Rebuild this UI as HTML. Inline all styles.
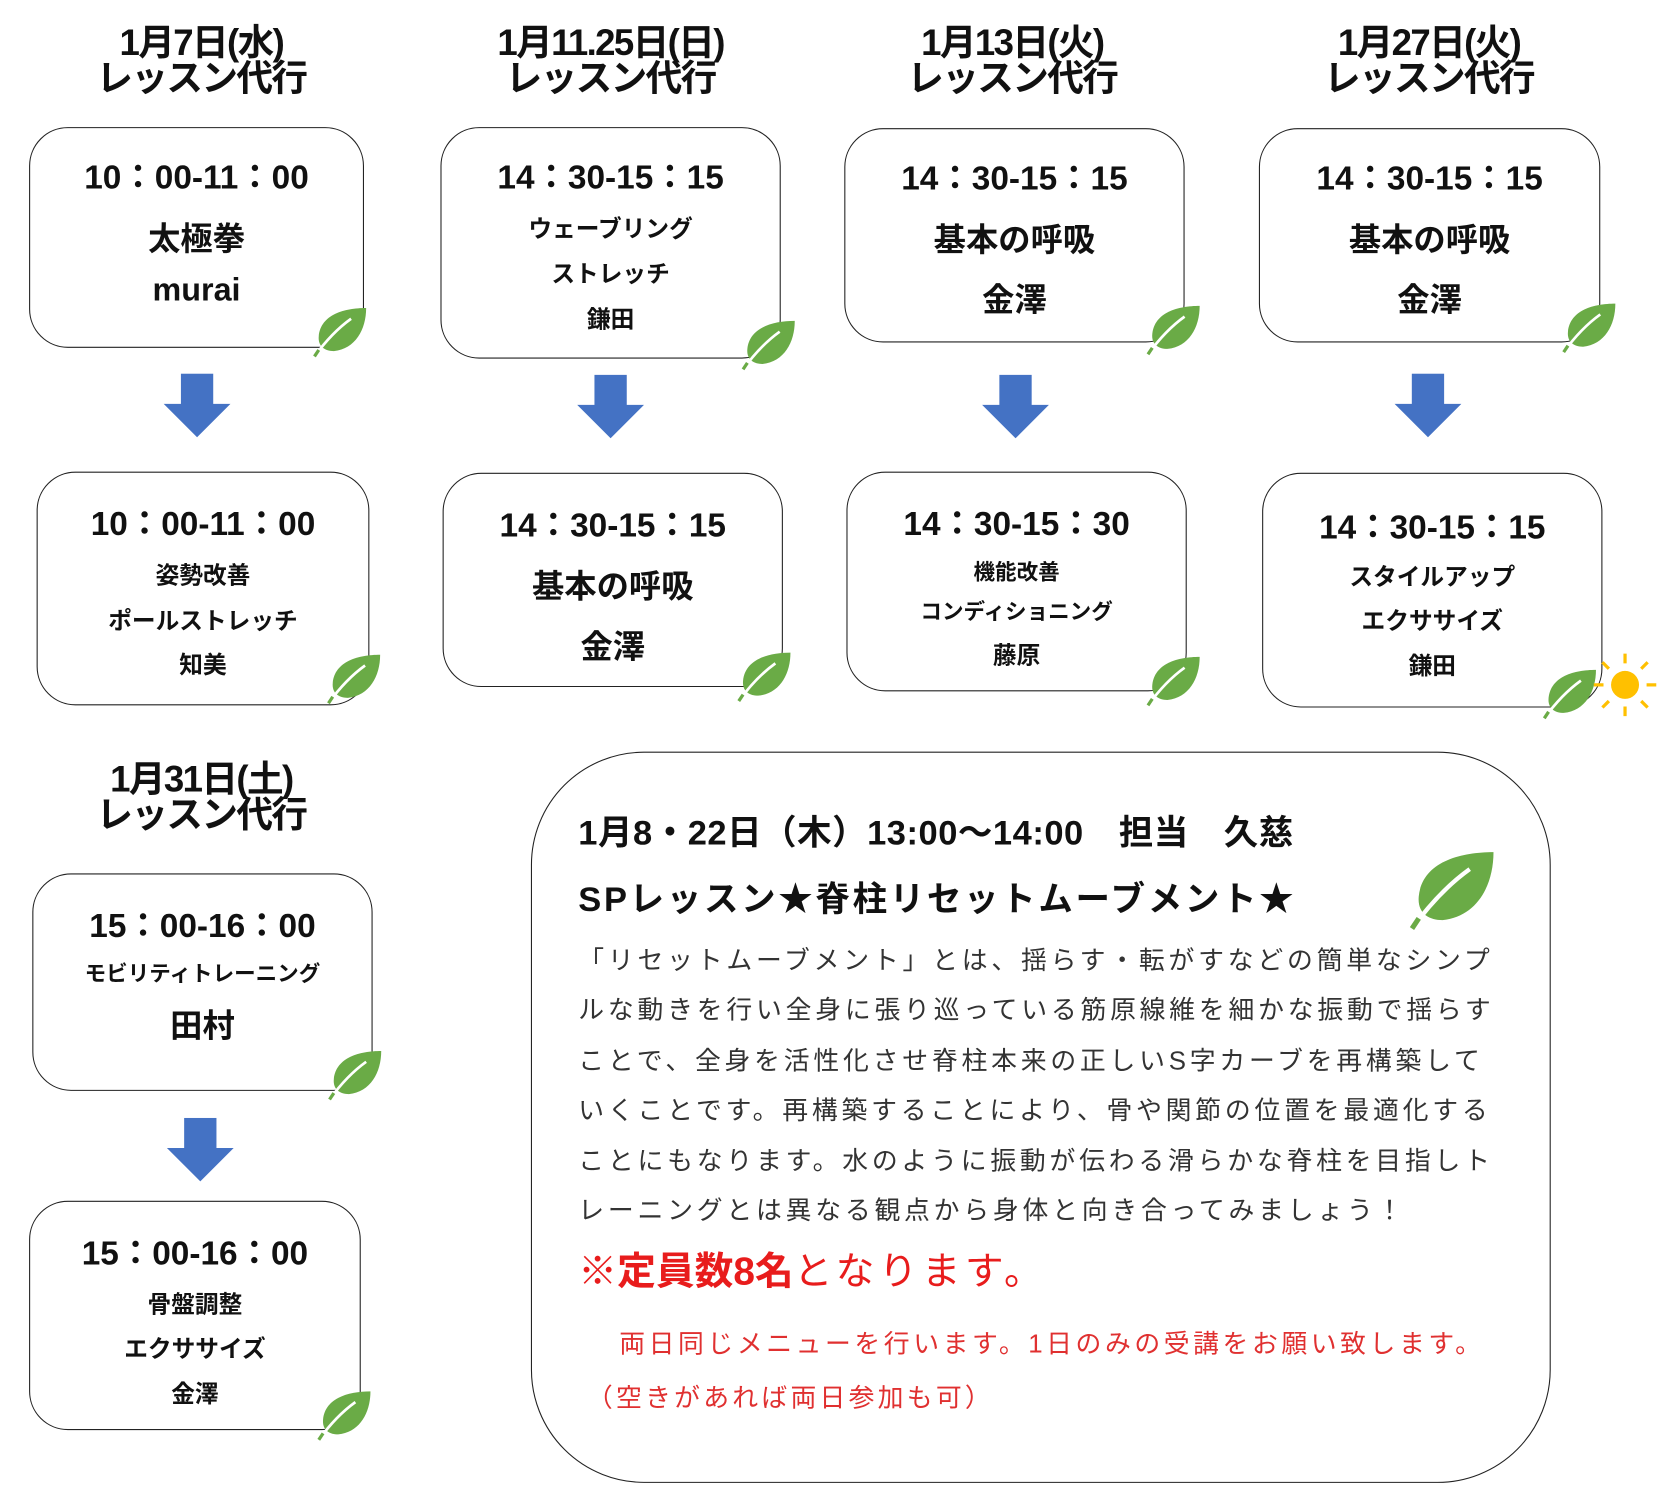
<!DOCTYPE html>
<html><head><meta charset="utf-8"><style>
html,body{margin:0;padding:0;background:#fff;}
body{width:1680px;height:1488px;overflow:hidden;position:relative;}
#w{position:absolute;left:0;top:0;width:1560px;height:1382px;transform:scale(1.0769);transform-origin:0 0;font-family:"Liberation Sans","Noto Sans CJK JP",sans-serif;color:#111;}
.h{position:absolute;text-align:center;font-size:34px;line-height:33px;width:360px;font-weight:bold;letter-spacing:-1.5px;}
.b{position:absolute;border:1.5px solid #222;border-radius:36px;box-sizing:border-box;text-align:center;font-weight:bold;}
.b div{position:absolute;left:0;right:0;text-align:center;}
.t{font-size:31px;}
.m{font-size:30px;}
.s{font-size:22px;}
.ar{position:absolute;width:64px;height:60px;}
.lf{position:absolute;width:52px;height:48px;}
.p{position:absolute;white-space:nowrap;}
</style></head><body><div id="w">
<svg width="0" height="0" style="position:absolute"><defs>
<symbol id="leaf" viewBox="0 0 52 48"><path d="M50 2 C30 2 8 8 6 28 C5 38 12 42 20 42 C40 40 50 22 50 2Z" fill="#6aab46"/><path d="M2 47 C10 36 22 22 36 12" stroke="#fff" stroke-width="2.5" fill="none"/><path d="M2 47 L6 41" stroke="#6aab46" stroke-width="3"/></symbol>
<symbol id="arr" viewBox="0 0 64 60"><path d="M17 0 H47 V28 H63 L32 59 L1 28 H17Z" fill="#4472c4"/></symbol>
</defs></svg>

<div class="h" style="left:7px;top:24px">1月7日(水)<br>レッスン代行</div>
<div class="h" style="left:387px;top:24px">1月11.25日(日)<br>レッスン代行</div>
<div class="h" style="left:760px;top:24px">1月13日(火)<br>レッスン代行</div>
<div class="h" style="left:1147px;top:24px">1月27日(火)<br>レッスン代行</div>
<div class="h" style="left:7px;top:708px">1月31日(土)<br>レッスン代行</div>

<div class="b" style="left:27px;top:118px;width:311px;height:205px"><div class="t" style="top:20px">10：00-11：00</div><div class="m" style="top:78px">太極拳</div><div class="m" style="top:134px">murai</div></div>
<div class="b" style="left:409px;top:118px;width:316px;height:215px"><div class="t" style="top:20px">14：30-15：15</div><div class="s" style="top:76px">ウェーブリング</div><div class="s" style="top:118px">ストレッチ</div><div class="s" style="top:160px">鎌田</div></div>
<div class="b" style="left:784px;top:119px;width:316px;height:199px"><div class="t" style="top:20px">14：30-15：15</div><div class="m" style="top:78px">基本の呼吸</div><div class="m" style="top:134px">金澤</div></div>
<div class="b" style="left:1169px;top:119px;width:317px;height:199px"><div class="t" style="top:20px">14：30-15：15</div><div class="m" style="top:78px">基本の呼吸</div><div class="m" style="top:134px">金澤</div></div>

<svg class="ar" style="left:151px;top:347px"><use href="#arr"/></svg>
<svg class="ar" style="left:535px;top:348px"><use href="#arr"/></svg>
<svg class="ar" style="left:911px;top:348px"><use href="#arr"/></svg>
<svg class="ar" style="left:1294px;top:347px"><use href="#arr"/></svg>
<svg class="ar" style="left:154px;top:1038px"><use href="#arr"/></svg>

<div class="b" style="left:34px;top:438px;width:309px;height:217px"><div class="t" style="top:22px">10：00-11：00</div><div class="s" style="top:78px">姿勢改善</div><div class="s" style="top:120px">ポールストレッチ</div><div class="s" style="top:161px">知美</div></div>
<div class="b" style="left:411px;top:439px;width:316px;height:199px"><div class="t" style="top:22px">14：30-15：15</div><div class="m" style="top:80px">基本の呼吸</div><div class="m" style="top:136px">金澤</div></div>
<div class="b" style="left:786px;top:438px;width:316px;height:204px"><div class="t" style="top:22px">14：30-15：30</div><div class="s" style="top:76px;font-size:20px">機能改善</div><div class="s" style="top:113px;font-size:20px">コンディショニング</div><div class="s" style="top:152px">藤原</div></div>
<div class="b" style="left:1172px;top:439px;width:316px;height:218px"><div class="t" style="top:24px">14：30-15：15</div><div class="s" style="top:78px">スタイルアップ</div><div class="s" style="top:119px">エクササイズ</div><div class="s" style="top:161px">鎌田</div></div>

<div class="b" style="left:30px;top:811px;width:316px;height:202px"><div class="t" style="top:22px">15：00-16：00</div><div class="s" style="top:76px;font-size:20px">モビリティトレーニング</div><div class="m" style="top:116px">田村</div></div>
<div class="b" style="left:27px;top:1115px;width:308px;height:213px"><div class="t" style="top:22px">15：00-16：00</div><div class="s" style="top:78px">骨盤調整</div><div class="s" style="top:119px">エクササイズ</div><div class="s" style="top:161px">金澤</div></div>

<svg class="lf" style="left:290px;top:284px"><use href="#leaf"/></svg>
<svg class="lf" style="left:688px;top:296px"><use href="#leaf"/></svg>
<svg class="lf" style="left:1064px;top:282px"><use href="#leaf"/></svg>
<svg class="lf" style="left:1450px;top:280px"><use href="#leaf"/></svg>
<svg class="lf" style="left:303px;top:606px"><use href="#leaf"/></svg>
<svg class="lf" style="left:684px;top:604px"><use href="#leaf"/></svg>
<svg class="lf" style="left:1064px;top:608px"><use href="#leaf"/></svg>
<svg class="lf" style="left:1432px;top:620px"><use href="#leaf"/></svg>
<svg class="lf" style="left:304px;top:974px"><use href="#leaf"/></svg>
<svg class="lf" style="left:294px;top:1290px"><use href="#leaf"/></svg>
<svg style="position:absolute;left:1478px;top:605px" width="62" height="62" viewBox="0 0 62 62"><circle cx="31" cy="31" r="13" fill="#ffc000"/><g stroke="#ffc000" stroke-width="3"><line x1="31" y1="2" x2="31" y2="11"/><line x1="31" y1="51" x2="31" y2="60"/><line x1="2" y1="31" x2="11" y2="31"/><line x1="51" y1="31" x2="60" y2="31"/><line x1="10" y1="10" x2="16" y2="16"/><line x1="46" y1="46" x2="52" y2="52"/><line x1="52" y1="10" x2="46" y2="16"/><line x1="10" y1="52" x2="16" y2="46"/></g></svg>

<div class="b" style="left:493px;top:698px;width:947px;height:679px;border-radius:105px"></div>
<div class="p" style="left:537px;top:748px;font-size:32px;font-weight:bold;letter-spacing:0.5px">1月8・22日（木）13:00～14:00　担当　久慈</div>
<div class="p" style="left:537px;top:810px;font-size:32px;font-weight:bold;letter-spacing:2.5px">SPレッスン★脊柱リセットムーブメント★</div>
<svg style="position:absolute;left:1308px;top:788px" width="82" height="76" viewBox="0 0 52 48"><use href="#leaf"/></svg>
<div class="p" style="left:537px;top:870px;font-size:24px;line-height:46.4px;color:#333;letter-spacing:3.5px">「リセットムーブメント」とは、揺らす・転がすなどの簡単なシンプ<br>ルな動きを行い全身に張り巡っている筋原線維を細かな振動で揺らす<br>ことで、全身を活性化させ脊柱本来の正しいS字カーブを再構築して<br>いくことです。再構築することにより、骨や関節の位置を最適化する<br>ことにもなります。水のように振動が伝わる滑らかな脊柱を目指しト<br>レーニングとは異なる観点から身体と向き合ってみましょう！</div>
<div class="p" style="left:537px;top:1152px;font-size:36px;color:#e81c1c"><b>※定員数8名</b><span style="letter-spacing:4px">となります。</span></div>
<div class="p" style="left:575px;top:1228px;font-size:24px;color:#e03030;letter-spacing:3.3px">両日同じメニューを行います。1日のみの受講をお願い致します。</div>
<div class="p" style="left:545px;top:1278px;font-size:24px;color:#e03030;letter-spacing:3px">（空きがあれば両日参加も可）</div>
</div></body></html>
